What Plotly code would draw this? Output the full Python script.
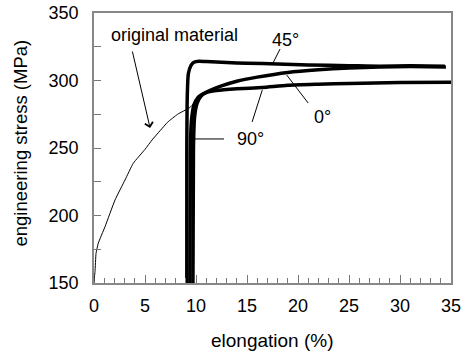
import plotly.graph_objects as go

# original material (thin curve)
orig_x = [0, 0.05, 0.1, 0.2, 0.42, 1.08, 2.06, 3.04, 3.85, 5.0, 5.7, 6.5, 7.2, 8.2, 9.4, 10.4, 11.2]
orig_y = [150, 155, 158.5, 172, 179.5, 191.7, 211.5, 226.3, 238.7, 249, 256, 263, 269, 275, 280, 288, 291]

# 45 degrees
x45 = [9.1, 9.1, 9.15, 9.25, 9.5, 9.8, 10.3, 11, 13, 15, 18, 21, 25, 28, 31, 34.4]
y45 = [150, 250, 290, 305, 311, 313.5, 314.3, 314, 313.3, 312.8, 312.3, 311.5, 311, 310.6, 310.9, 310.6]

# 0 degrees
x0 = [9.4, 9.45, 9.55, 9.8, 10.2, 10.8, 11.5, 12.5, 14, 16, 19, 22, 25, 28, 31, 34.5]
y0 = [150, 250, 270, 282, 287.5, 290.5, 293, 296, 299.5, 302.5, 306, 308, 309.3, 310, 310.3, 310]

# 90 degrees
x90 = [9.7, 9.75, 9.85, 10.1, 10.5, 11, 12, 14, 16.5, 19, 22, 25, 30, 35]
y90 = [150, 250, 272, 283, 288.5, 291, 292.5, 293.8, 294.8, 296.4, 297.2, 297.8, 298.5, 298.7]

x_ticks = [0, 5, 10, 15, 20, 25, 30, 35]
y_ticks = [150, 200, 250, 300, 350]

FONT = "Liberation Sans, Arial, Helvetica, sans-serif"

fig = go.Figure()
fig.add_trace(go.Scatter(x=orig_x, y=orig_y, mode="lines",
                         line=dict(color="black", width=1, shape="spline", smoothing=0.4),
                         showlegend=False))
for xs, ys in [(x90, y90), (x0, y0), (x45, y45)]:
    fig.add_trace(go.Scatter(x=xs, y=ys, mode="lines",
                             line=dict(color="black", width=3.5, shape="spline", smoothing=0.6),
                             showlegend=False))

# pointer lines
ptr = [
    (18.24, 323.3, 17.55, 313.0),   # 45
    (18.9, 304.0, 21.0, 283.3),     # 0
    (15.5, 269.3, 16.5, 293.0),     # 90 to curve
    (9.7, 256.7, 12.75, 256.7),     # 90 horizontal
]
for (a, b, c, d) in ptr:
    fig.add_shape(type="line", x0=a, y0=b, x1=c, y1=d, xref="x", yref="y",
                  line=dict(color="black", width=1))

fig.add_annotation(x=5.5, y=264.8, ax=3.73, ay=322.6, axref="x", ayref="y",
                   xref="x", yref="y", text="", showarrow=True,
                   arrowhead=4, arrowsize=1.6, arrowwidth=1, arrowcolor="black")

labels = [("original material", 7.94, 333.7), ("45°", 18.8, 330), ("0°", 22.45, 273), ("90°", 15.3, 256.7)]
for t, x, y in labels:
    fig.add_annotation(x=x, y=y, text=t, showarrow=False, xref="x", yref="y",
                       font=dict(size=18, color="black", family=FONT))

# axis titles (paper coords relative to plot area)
W, H = 469, 352
L, R, T, B = 94, 18, 13, 69
PW, PH = W - L - R, H - T - B
fig.add_annotation(x=(272 - L) / PW, y=(H - B - 340) / PH, xref="paper", yref="paper",
                   text="elongation (%)", showarrow=False, xanchor="center", yanchor="middle",
                   font=dict(size=19, color="black", family=FONT))
fig.add_annotation(x=(20 - L) / PW, y=(H - B - 143.5) / PH, xref="paper", yref="paper",
                   text="engineering stress (MPa)", showarrow=False, xanchor="center",
                   yanchor="middle", textangle=-90,
                   font=dict(size=18.5, color="black", family=FONT))

fig.update_layout(
    width=W, height=H,
    margin=dict(l=L, r=R, t=T, b=B, autoexpand=False),
    plot_bgcolor="white", paper_bgcolor="white",
    font=dict(family=FONT, size=18, color="black"),
)
fig.update_xaxes(range=[0, 35], tickvals=x_ticks, ticks="inside", ticklen=8, tickcolor="#777",
                 minor=dict(dtick=1, ticks="inside", ticklen=5, tickcolor="#777"),
                 showline=True, linecolor="#888", linewidth=1.5, mirror=True,
                 showgrid=False, zeroline=False, ticklabelstandoff=6, automargin=False)
fig.update_yaxes(range=[150, 350], tickvals=y_ticks, ticks="inside", ticklen=7, tickcolor="#777",
                 minor=dict(dtick=25, ticks="inside", ticklen=7, tickcolor="#777"),
                 showline=True, linecolor="#888", linewidth=1.5, mirror=True,
                 showgrid=False, zeroline=False, ticklabelstandoff=10, automargin=False)

fig.write_html("out.html")
